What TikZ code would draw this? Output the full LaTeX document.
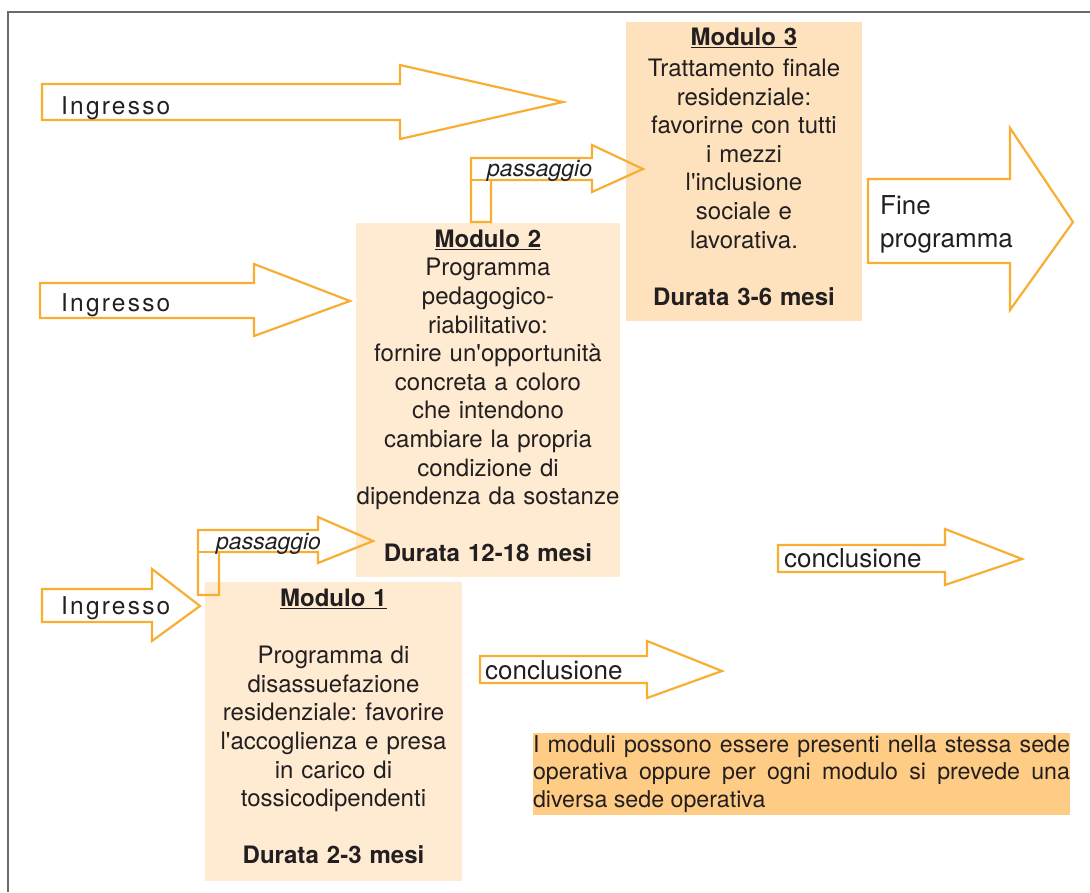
\documentclass[tikz,border=0pt]{standalone}
\usepackage{fontspec}
\setmainfont{TeX Gyre Heros}[Ligatures=TeXOff]
\frenchspacing
\hyphenpenalty=10000
\definecolor{arancio}{HTML}{F8AD33}
\definecolor{modchiaro}{HTML}{FEEBD2}
\definecolor{modscuro}{HTML}{FEE2BD}
\definecolor{notacol}{HTML}{FFCC85}
\definecolor{testo}{HTML}{231F20}
\definecolor{cornice}{HTML}{6B6B6B}
\tikzset{
  freccia/.style={draw=arancio,line width=2.2pt,line join=miter},
  modulo/.style={inner sep=0pt,align=center,text=testo,
    font=\fontsize{24}{28.6}\selectfont},
  ingresso/.style={anchor=base west,inner sep=0pt,text=testo,
    font=\fontsize{24.5}{29}\selectfont\addfontfeature{LetterSpace=9}},
  scritta/.style={anchor=base west,inner sep=0pt,text=testo,
    font=\fontsize{26}{33}\selectfont},
  passo/.style={anchor=base west,inner sep=0pt,text=testo,
    font=\fontsize{23}{27}\selectfont\itshape}
}
\begin{document}
\begin{tikzpicture}[x=1pt,y=-1pt]
  \useasboundingbox (0,0) rectangle (1090,892);
  \draw[cornice,line width=2pt](8,892)--(8,12)--(1090,12);
  \fill[modscuro](626,22)rectangle(862,321);
  \node[modulo,text width=236pt](mod3) at(744,167){%
    \underline{\textbf{Modulo 3}}\\[2pt]
    Trattamento finale\\
    residenziale:\\
    favorirne con tutti\\
    i mezzi\\
    l'inclusione\\
    sociale e\\
    lavorativa.\\[28.6pt]
    \textbf{Durata 3-6 mesi}};
  \fill[modchiaro](356,223)rectangle(620,577);
  \node[modulo,text width=264pt](mod2) at(488,396){%
    \underline{\textbf{Modulo 2}}\\
    Programma\\
    pedagogico-\\
    riabilitativo:\\
    fornire un'opportunità\\
    concreta a coloro\\
    che intendono\\
    cambiare la propria\\
    condizione di\\
    dipendenza da sostanze\\[28.6pt]
    \textbf{Durata 12-18 mesi}};
  \fill[modchiaro](205,582)rectangle(462,881);
  \node[modulo,text width=257pt](mod1) at(333.5,726.5){%
    \underline{\textbf{Modulo 1}}\\[28.6pt]
    Programma di\\
    disassuefazione\\
    residenziale: favorire\\
    l'accoglienza e presa\\
    in carico di\\
    tossicodipendenti\\[28.6pt]
    \textbf{Durata 2-3 mesi}};
  \node[fill=notacol,inner xsep=0pt,inner ysep=0pt,minimum height=82pt,text width=537pt,align=justify,
    text=testo,font=\fontsize{23.2}{27.5}\selectfont](nota) at(801.5,774){%
    I moduli possono essere presenti nella stessa sede operativa oppure per ogni modulo si prevede una diversa sede operativa};
  \draw[freccia](42,84)--(400,84)--(400,65)--(563,102)--(400,139)--(400,120)--(42,120)--cycle;
  \node[ingresso](ing1) at(61,114){Ingresso};
  \draw[freccia](40,283)--(254,283)--(254,264)--(350,301)--(254,336)--(254,318)--(40,318)--cycle;
  \node[ingresso](ing2) at(61,311){Ingresso};
  \draw[freccia](42,589)--(152,589)--(152,569)--(200,606)--(152,641)--(152,622)--(42,622)--cycle;
  \node[ingresso](ing3) at(61,614){Ingresso};
  \draw[freccia](471,222)--(471,158)--(592,158)--(592,145)--(643,169)--(592,192)--(592,180)--(491,180)--(491,222)--cycle;
  \draw[freccia](471,180)--(491,180);
  \node[passo](pass2) at(487,176){passaggio};
  \draw[freccia](198,595)--(198,530)--(318,530)--(318,517)--(373,541)--(318,563)--(318,552)--(219,552)--(219,595)--cycle;
  \draw[freccia](198,552)--(219,552);
  \node[passo](pass1) at(216,549){passaggio};
  \draw[freccia](868,179)--(1010,179)--(1010,128)--(1073,222)--(1010,310)--(1010,263)--(868,263)--cycle;
  \node[scritta,anchor=north west,align=left](fine) at(880,195){Fine\\programma};
  \draw[freccia](778,545)--(945,545)--(945,529)--(1022,559)--(945,585)--(945,572)--(778,572)--cycle;
  \node[scritta](concl2) at(784,567){conclusione};
  \draw[freccia](480,656)--(647,656)--(647,641)--(722,671)--(647,698)--(647,683)--(480,683)--cycle;
  \node[scritta](concl1) at(485,679){conclusione};
\end{tikzpicture}
\end{document}
